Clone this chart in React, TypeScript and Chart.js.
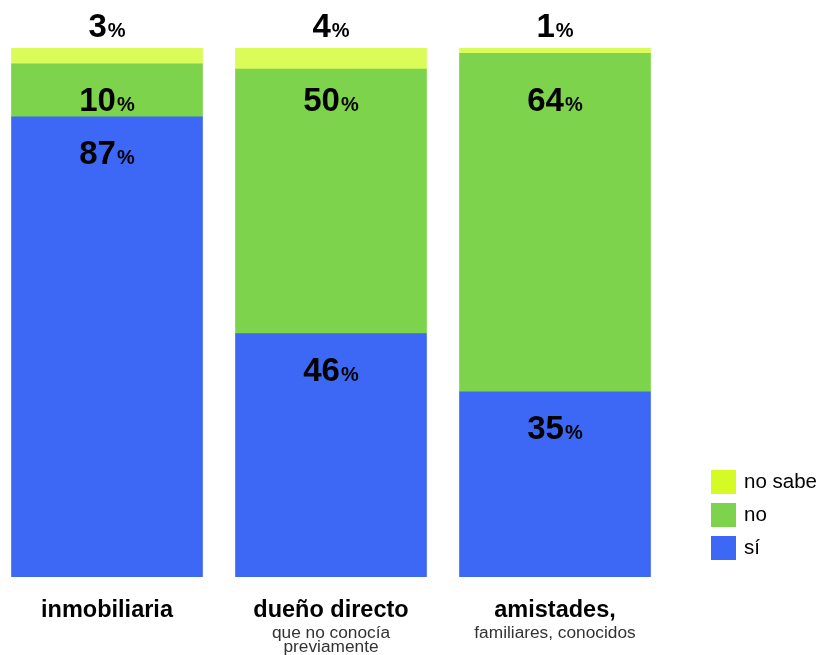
import React, { useEffect, useRef } from "react";
import { Chart, registerables } from "chart.js";

Chart.register(...registerables);

const categories = ["inmobiliaria", "dueño directo", "amistades,"];
const categorySubtitles: string[][] = [[], ["que no conocía", "previamente"], ["familiares, conocidos"]];
const siValues = [87, 46, 35];
const noValues = [10, 50, 64];
const noSabeValues = [3, 4, 1];
const seriesNames = ["sí", "no", "no sabe"];
const barColors = ["#3d68f5", "#7dd44c", "#dafb58"];
const legendColors = ["#3d68f5", "#7dd44c", "#d4fc24"];

const FONT = '"Liberation Sans", Arial, Helvetica, sans-serif';

function drawValue(ctx: CanvasRenderingContext2D, value: number, cx: number, baseline: number) {
  const num = String(value);
  ctx.font = `bold 33px ${FONT}`;
  const w1 = ctx.measureText(num).width;
  ctx.font = `bold 20px ${FONT}`;
  const w2 = ctx.measureText("%").width;
  const gap = 1;
  const start = cx - (w1 + gap + w2) / 2;
  ctx.fillStyle = "#000";
  ctx.textAlign = "left";
  ctx.textBaseline = "alphabetic";
  ctx.font = `bold 33px ${FONT}`;
  ctx.fillText(num, start, baseline);
  ctx.font = `bold 20px ${FONT}`;
  ctx.fillText("%", start + w1 + gap, baseline);
}

const labelsPlugin = {
  id: "customLabels",
  afterDatasetsDraw(chart: any) {
    const ctx: CanvasRenderingContext2D = chart.ctx;
    const area = chart.chartArea;
    ctx.save();
    const siMeta = chart.getDatasetMeta(0);
    const noMeta = chart.getDatasetMeta(1);
    const nsMeta = chart.getDatasetMeta(2);
    siMeta.data.forEach((bar: any, i: number) => {
      drawValue(ctx, siValues[i], bar.x, bar.y + 47);
    });
    noMeta.data.forEach((bar: any, i: number) => {
      drawValue(ctx, noValues[i], bar.x, area.top + 63);
    });
    nsMeta.data.forEach((bar: any, i: number) => {
      drawValue(ctx, noSabeValues[i], bar.x, area.top - 11);
    });

    // category labels
    siMeta.data.forEach((bar: any, i: number) => {
      ctx.fillStyle = "#000";
      ctx.textAlign = "center";
      ctx.textBaseline = "alphabetic";
      ctx.font = `bold 23.5px ${FONT}`;
      ctx.fillText(categories[i], bar.x, area.bottom + 40);
      ctx.font = `17.3px ${FONT}`;
      ctx.fillStyle = "#333";
      categorySubtitles[i].forEach((line, j) => {
        ctx.fillText(line, bar.x, area.bottom + 61 + j * 14);
      });
    });

    // legend
    const lx = chart.width - 110;
    const order = [2, 1, 0];
    order.forEach((di, k) => {
      const y = area.bottom - 107 + k * 33;
      ctx.fillStyle = legendColors[di];
      ctx.fillRect(lx, y, 25, 24);
      ctx.fillStyle = "#000";
      ctx.font = `20.5px ${FONT}`;
      ctx.textAlign = "left";
      ctx.textBaseline = "alphabetic";
      ctx.fillText(seriesNames[di], lx + 33, y + 18);
    });
    ctx.restore();
  },
};

export default function App() {
  const ref = useRef<HTMLCanvasElement>(null);
  useEffect(() => {
    if (!ref.current) return;
    const chart = new Chart(ref.current, {
      type: "bar",
      data: {
        labels: categories,
        datasets: [
          { label: seriesNames[0], data: siValues, backgroundColor: barColors[0] },
          { label: seriesNames[1], data: noValues, backgroundColor: barColors[1] },
          { label: seriesNames[2], data: noSabeValues, backgroundColor: barColors[2] },
        ],
      },
      options: {
        animation: false,
        responsive: false,
        maintainAspectRatio: false,
        layout: { padding: { top: 48, bottom: 78, left: 0, right: 154 } },
        datasets: { bar: { barThickness: 191, borderWidth: 0 } } as any,
        scales: {
          x: { stacked: true, display: false, grid: { display: false } },
          y: { stacked: true, display: false, min: 0, max: 100, grid: { display: false } },
        },
        plugins: { legend: { display: false }, tooltip: { enabled: false } },
      },
      plugins: [labelsPlugin],
    });
    return () => chart.destroy();
  }, []);
  return (
    <div style={{ position: "absolute", left: -5, top: 0, width: 826, height: 655 }}>
      <canvas ref={ref} width={826} height={655} />
    </div>
  );
}
